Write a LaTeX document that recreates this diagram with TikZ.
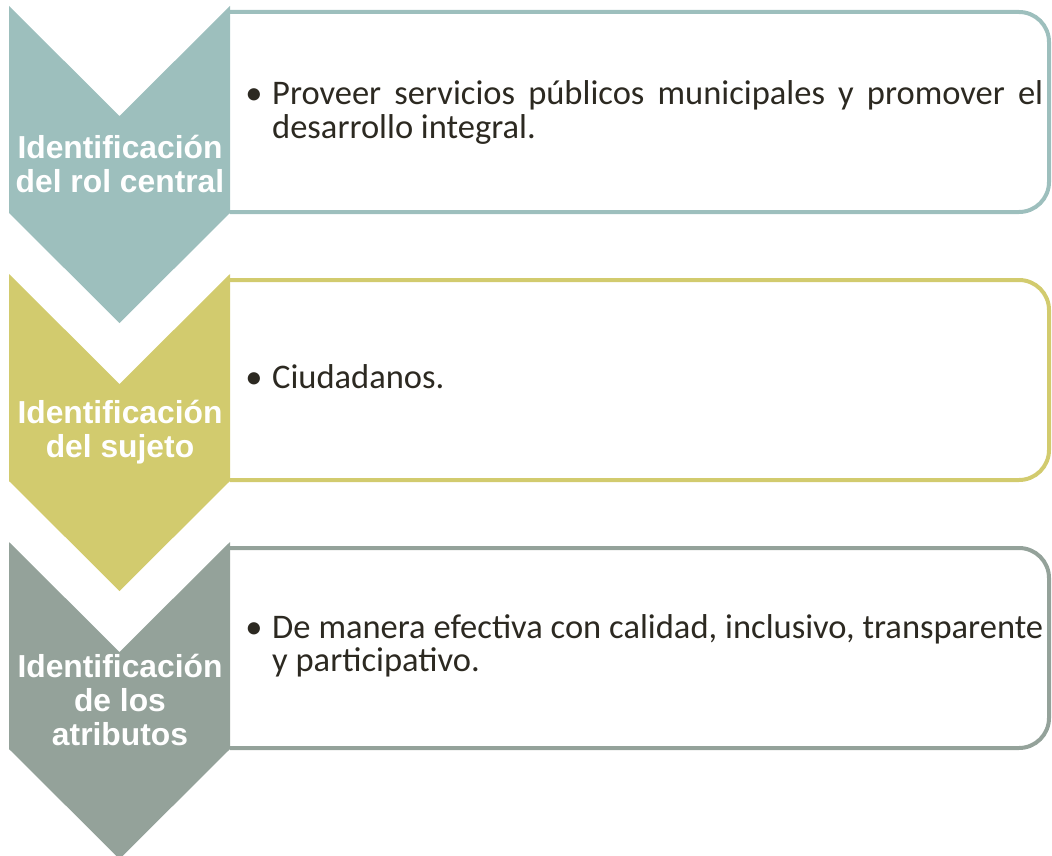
\documentclass[tikz,border=0pt]{standalone}
\usepackage{fontspec}
\setmainfont{Carlito}
\newfontfamily\labfont{Liberation Sans}
\definecolor{rolcol}{RGB}{157,191,189}
\definecolor{sujcol}{RGB}{210,203,110}
\definecolor{atrcol}{RGB}{148,162,154}
\definecolor{txtcol}{RGB}{44,41,33}
\begin{document}
\begin{tikzpicture}[x=1pt,y=-1pt,
  chevlabel/.style={text=white,align=center,inner sep=0pt,font=\labfont\bfseries\fontsize{31.8pt}{34pt}\selectfont},
  itemtext/.style={text=txtcol,anchor=base west,inner sep=0pt,font=\fontsize{34.5pt}{33.5pt}\selectfont},
  bulletmark/.style={text=txtcol,anchor=base,inner sep=0pt,font=\fontsize{34.5pt}{33.5pt}\selectfont}]
\useasboundingbox (0,0) rectangle (1052,856);
\foreach \yy/\col/\lab [count=\n] in {6/rolcol/{Identificación\\del rol central},274/sujcol/{Identificación\\del sujeto},542/atrcol/{Identificación\\de los\\atributos}}{
  \draw[\col,line width=4pt,rounded corners=30pt] (230,\yy+6) -- (1049,\yy+6) -- (1049,\yy+206) -- (230,\yy+206);
  \fill[\col] (9,\yy) -- (119.5,\yy+110) -- (230,\yy) -- (230,\yy+207) -- (119.5,\yy+317) -- (9,\yy+207) -- cycle;
  \node[chevlabel] (lab\n) at (120,\yy+158) {\lab};
}
\node[bulletmark] (b1) at (254,105) {•};
\node[itemtext] (t1) at (272,105) {\parbox[t]{771pt}{\makebox[771pt][s]{Proveer servicios públicos municipales y promover el}\\desarrollo integral.}};
\node[bulletmark] (b2) at (254,388) {•};
\node[itemtext] (t2) at (272,388) {Ciudadanos.};
\node[bulletmark] (b3) at (254,638) {•};
\node[itemtext] (t3) at (272,638) {\parbox[t]{771pt}{\makebox[771pt][s]{De manera efectiva con calidad, inclusivo, transparente}\\y participativo.}};
\end{tikzpicture}
\end{document}
